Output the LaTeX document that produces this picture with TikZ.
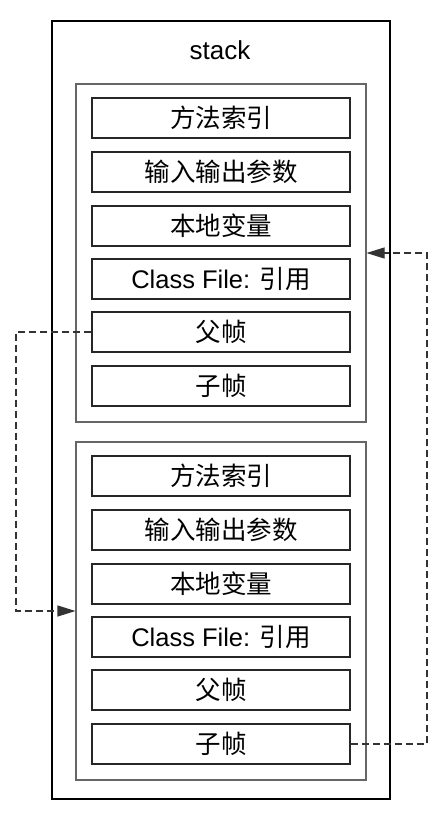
\documentclass[tikz,border=0pt]{standalone}
\usepackage{fontspec}
\setmainfont{Liberation Sans}
\newfontfamily\cjk{Noto Sans CJK SC}
\usetikzlibrary{arrows.meta,calc}
\begin{document}
\begin{tikzpicture}[x=1pt,y=-1pt,
  outerbox/.style={draw=black,line width=1.3pt},
  framebox/.style={draw=black!60,line width=1.1pt},
  itembox/.style={draw=black!85,line width=1.3pt,minimum width=258pt,minimum height=40pt,inner sep=0pt,font=\fontsize{25.5}{27}\selectfont},
  link/.style={draw=black!80,line width=1.1pt,dash pattern=on 7pt off 4pt,-{Triangle[length=18pt,width=11pt]}},
  lbl/.style={font=\fontsize{26}{28}\selectfont}]
\useasboundingbox (0,0) rectangle (446,830);
\draw[outerbox] (52,21) rectangle (390,799);
\node[lbl] (title) at (220,50) {stack};
\node[framebox,minimum width=290pt,minimum height=338pt,inner sep=0pt] (f1) at (221,253) {};
\node[framebox,minimum width=290pt,minimum height=338pt,inner sep=0pt] (f2) at (221,611) {};
% frame 1 items
\node[itembox] (a1) at (221,118) {\cjk 方法索引};
\node[itembox] (a2) at (221,172) {\cjk 输入输出参数};
\node[itembox] (a3) at (221,226) {\cjk 本地变量};
\node[itembox] (a4) at (221,279) {Class File: {\cjk 引用}};
\node[itembox] (a5) at (221,332) {\cjk 父帧};
\node[itembox] (a6) at (221,386) {\cjk 子帧};
% frame 2 items
\node[itembox] (b1) at (221,476) {\cjk 方法索引};
\node[itembox] (b2) at (221,530) {\cjk 输入输出参数};
\node[itembox] (b3) at (221,584) {\cjk 本地变量};
\node[itembox] (b4) at (221,637) {Class File: {\cjk 引用}};
\node[itembox] (b5) at (221,690) {\cjk 父帧};
\node[itembox] (b6) at (221,744) {\cjk 子帧};
% connectors
\coordinate (lx) at (16,0);
\coordinate (rx) at (427,0);
\coordinate (t2) at (f2.west);
\coordinate (t1) at (f1.east);
\draw[link] (a5.west) -- (a5.west -| lx) -- (t2 -| lx) -- (t2);
\draw[link] (b6.east) -- (b6.east -| rx) -- (t1 -| rx) -- (t1);
\end{tikzpicture}
\end{document}
